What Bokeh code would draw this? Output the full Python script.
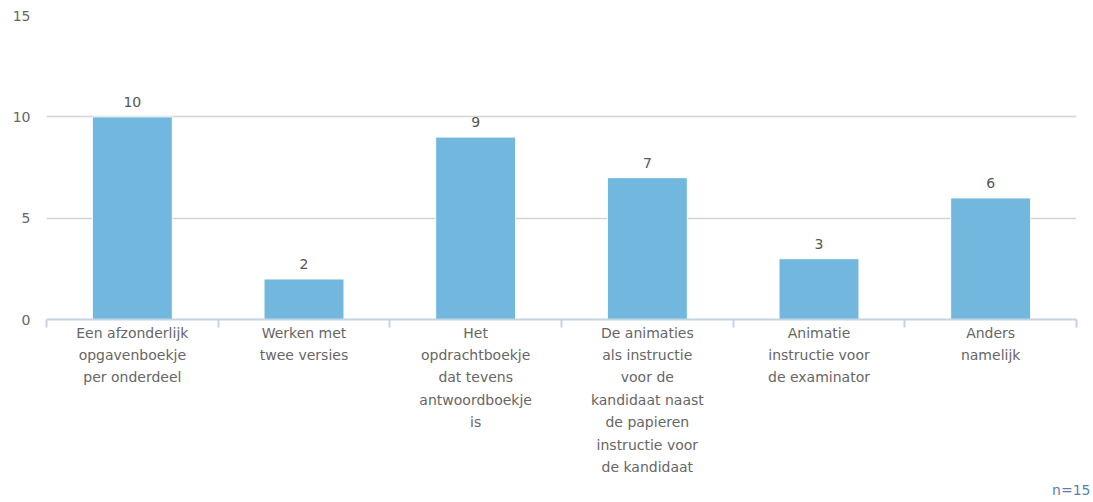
from bokeh.plotting import figure
from bokeh.models import Range1d, FixedTicker, Title, ColumnDataSource
from bokeh.embed import file_html
from bokeh.resources import INLINE
from bokeh.core.properties import value

categories = [
    "Een afzonderlijk\nopgavenboekje\nper onderdeel",
    "Werken met\ntwee versies",
    "Het\nopdrachtboekje\ndat tevens\nantwoordboekje\nis",
    "De animaties\nals instructie\nvoor de\nkandidaat naast\nde papieren\ninstructie voor\nde kandidaat",
    "Animatie\ninstructie voor\nde examinator",
    "Anders\nnamelijk",
]
counts = [10, 2, 9, 7, 3, 6]
y_ticks = [0, 5, 10, 15]
n_label = "n=15"

FONT = "DejaVu Sans"
xs = [i + 0.5 for i in range(len(categories))]
src = ColumnDataSource(dict(x=xs, top=counts, lbl=[str(c) for c in counts]))

p = figure(width=1093, height=502, output_backend="svg", toolbar_location=None,
           x_range=Range1d(0, len(categories)), y_range=Range1d(0, 15),
           min_border_left=46, min_border_right=17, min_border_top=15, min_border_bottom=183)
p.outline_line_color = None
p.background_fill_color = "white"
p.border_fill_color = "white"

p.vbar(x="x", top="top", width=0.466, source=src, fill_color="#72b8de",
       line_color="white", line_width=1)
p.text(x="x", y="top", text="lbl", source=src, y_offset=-10, text_align="center",
       text_baseline="bottom", text_font=value(FONT), text_font_size="14px",
       text_color="#555555")

# x axis
xa = p.xaxis[0]
xa.ticker = FixedTicker(ticks=xs, minor_ticks=list(range(len(categories) + 1)))
xa.major_label_overrides = {x: c for x, c in zip(xs, categories)}
xa.axis_line_color = "#c4d3e2"
xa.axis_line_width = 2
xa.major_tick_line_color = None
xa.major_tick_out = 0
xa.major_tick_in = 0
xa.minor_tick_line_color = "#c4d3e2"
xa.minor_tick_line_width = 2
xa.minor_tick_out = 8
xa.minor_tick_in = 0
xa.major_label_standoff = -3
xa.major_label_text_font = FONT
xa.major_label_text_font_size = "14px"
xa.major_label_text_color = "#666666"
xa.major_label_text_line_height = 1.4
xa.major_label_orientation = "horizontal"

# y axis
ya = p.yaxis[0]
ya.ticker = FixedTicker(ticks=y_ticks)
ya.axis_line_color = None
ya.major_tick_line_color = None
ya.major_tick_out = 0
ya.major_tick_in = 0
ya.minor_tick_line_color = None
ya.major_label_standoff = 16
ya.major_label_text_font = FONT
ya.major_label_text_font_size = "14px"
ya.major_label_text_color = "#666666"

p.xgrid.grid_line_color = None
p.ygrid.ticker = FixedTicker(ticks=[5, 10, 15])
p.ygrid.grid_line_color = "#d4d4d4"
p.ygrid.grid_line_width = 1.5

p.add_layout(Title(text=n_label, align="right", offset=-14, text_font=FONT,
                   text_font_size="14px", text_font_style="normal",
                   text_color="#5a7fae", standoff=4), "below")

open("out.html", "w").write(file_html(p, INLINE))
